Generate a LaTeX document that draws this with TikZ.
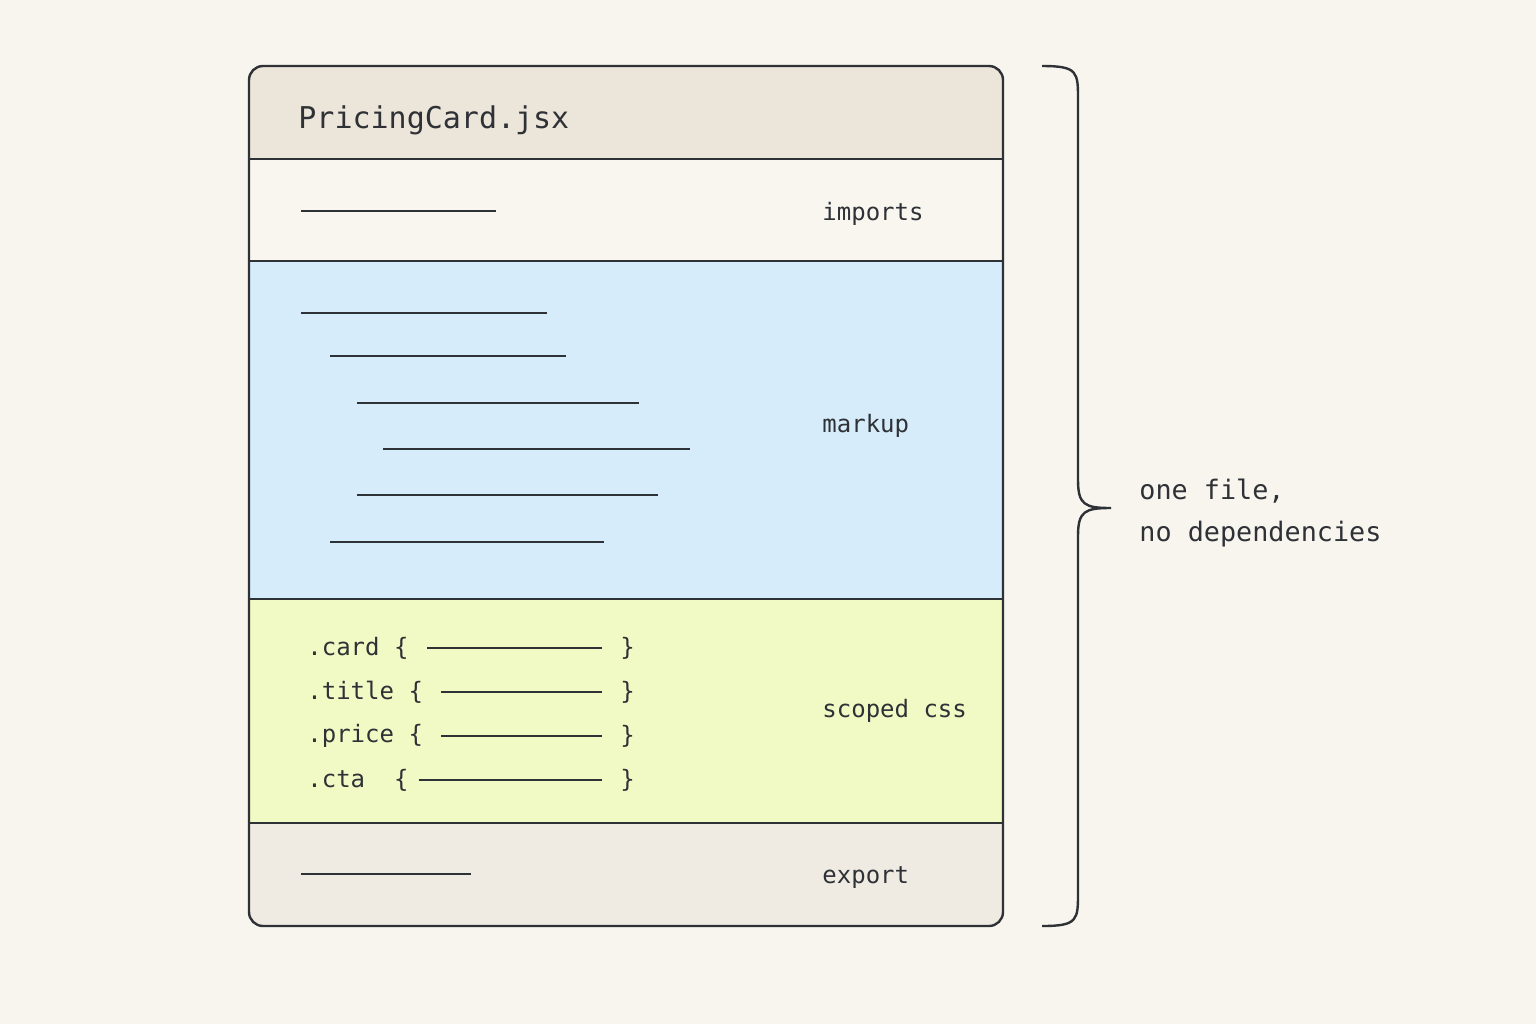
\documentclass[tikz,border=0pt]{standalone}
\usepackage{fontspec}
\setmonofont{DejaVu Sans Mono}
\definecolor{bg}{HTML}{F8F5EF}
\definecolor{hdr}{HTML}{ECE5D9}
\definecolor{imp}{HTML}{F9F6F0}
\definecolor{mk}{HTML}{D6ECFA}
\definecolor{css}{HTML}{F1F9C4}
\definecolor{exp}{HTML}{F0EBE2}
\definecolor{ink}{HTML}{2E3136}
\begin{document}
\begin{tikzpicture}[x=0.5pt,y=-0.5pt,
  ln/.style={ink,line width=1.2pt},
  sep/.style={ink,line width=1pt},
  lab/.style={anchor=west,font=\ttfamily\fontsize{12}{14}\selectfont,text=ink,inner sep=0},
  code/.style={anchor=west,font=\ttfamily\fontsize{12}{14}\selectfont,text=ink,inner sep=0}]
\fill[bg] (0,0) rectangle (1536,1024);
\useasboundingbox (0,0) rectangle (1536,1024);
\begin{scope}
\clip[rounded corners=7pt] (249,66) rectangle (1003,926);
\fill[hdr] (249,66) rectangle (1003,159);
\fill[imp] (249,159) rectangle (1003,261);
\fill[mk] (249,261) rectangle (1003,599);
\fill[css] (249,599) rectangle (1003,823);
\fill[exp] (249,823) rectangle (1003,926);
\end{scope}
\draw[ink,line width=1.2pt,rounded corners=7pt] (249,66) rectangle (1003,926);
\foreach \y in {159,261,599,823} \draw[sep] (249,\y) -- (1003,\y);
\node[code,font=\ttfamily\fontsize{15}{18}\selectfont] (title) at (298,120) {PricingCard.jsx};
\node[lab] (limp) at (822,214) {imports};
\node[lab] (lmk) at (822,426) {markup};
\node[lab] (lcss) at (822,711) {scoped css};
\node[lab] (lexp) at (822,878) {export};
\draw[ln] (301,211) -- (496,211);
\draw[ln] (301,313) -- (547,313);
\draw[ln] (330,356) -- (566,356);
\draw[ln] (357,403) -- (639,403);
\draw[ln] (383,449) -- (690,449);
\draw[ln] (357,495) -- (658,495);
\draw[ln] (330,542) -- (604,542);
\node[code] (c1) at (307,648) {.card \{};
\node[code] (c2) at (307,692) {.title \{};
\node[code] (c3) at (307,736) {.price \{};
\node[code] (c4) at (307,780) {.cta \ \{};
\foreach \y in {648,692,736,780} \node[code] at (620,\y) {\}};
\draw[ln] (427,648) -- (602,648);
\draw[ln] (441,692) -- (602,692);
\draw[ln] (441,736) -- (602,736);
\draw[ln] (419,780) -- (602,780);
\draw[ln] (301,874) -- (471,874);
\draw[ink,line width=1.2pt] (1042,66) .. controls (1078,66) and (1078,72) .. (1078,100) -- (1078,480) .. controls (1078,505) and (1085,508) .. (1111,508) .. controls (1085,508) and (1078,511) .. (1078,536) -- (1078,892) .. controls (1078,920) and (1078,926) .. (1042,926);
\node[code,font=\ttfamily\fontsize{13.4}{21}\selectfont,align=left,anchor=north west] (note) at (1139,479) {one file,\\no dependencies};
\end{tikzpicture}
\end{document}
